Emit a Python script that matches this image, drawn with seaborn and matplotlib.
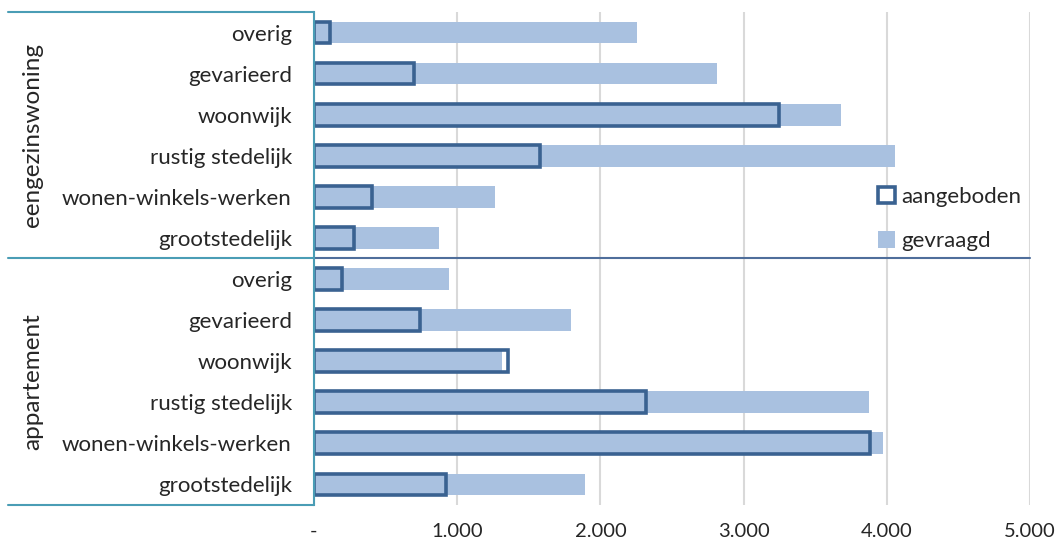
import pandas as pd
import matplotlib
matplotlib.use("Agg")
import matplotlib.pyplot as plt
from matplotlib.patches import Patch
from matplotlib.ticker import FuncFormatter
import seaborn as sns

# ---------------------------------------------------------
# data (aantallen woningen per woonmilieu)
# ---------------------------------------------------------
groepen = ['eengezinswoning', 'appartement']
milieus = ['overig', 'gevarieerd', 'woonwijk', 'rustig stedelijk',
           'wonen-winkels-werken', 'grootstedelijk']

gevraagd_egw = [2255, 2814, 3683, 4060, 1265, 874]
aangeboden_egw = [112, 699, 3245, 1575, 403, 280]
gevraagd_app = [943, 1796, 1311, 3878, 3974, 1894]
aangeboden_app = [198, 741, 1358, 2318, 3885, 922]

xticks = [0, 1000, 2000, 3000, 4000, 5000]

# ---------------------------------------------------------
# table
# ---------------------------------------------------------
rows = []
for g, gev, aan in [(groepen[0], gevraagd_egw, aangeboden_egw),
                    (groepen[1], gevraagd_app, aangeboden_app)]:
    for m, v1, v2 in zip(milieus, gev, aan):
        rows.append({'groep': g, 'milieu': m, 'key': f'{g}|{m}',
                     'gevraagd': v1, 'aangeboden': v2})
df = pd.DataFrame(rows)

# ---------------------------------------------------------
# style
# ---------------------------------------------------------
sns.set_style('white')
plt.rcParams['font.family'] = ['Lato', 'DejaVu Sans']
plt.rcParams['font.size'] = 16

licht = '#A9C1E0'
donker = '#3A6291'
teal = '#4A9DB5'
lijn = '#4F6E9B'

fig = plt.figure(figsize=(10.64, 5.46), dpi=100)
ax = fig.add_axes([0.2951, 0.0751, 0.673, 0.903])

sns.barplot(data=df, y='key', x='gevraagd', orient='h', color=licht,
            width=0.53, saturation=1, linewidth=0, ax=ax, zorder=2)
sns.barplot(data=df, y='key', x='aangeboden', orient='h', color=donker,
            width=0.53, saturation=1, fill=False, linewidth=2.6,
            ax=ax, zorder=3)

ax.set_xlim(0, 5000)
ax.set_ylim(len(df) - 0.5, -0.5)
ax.set_xticks(xticks)
ax.xaxis.set_major_formatter(FuncFormatter(
    lambda v, p: '-' if v == 0 else f'{int(v):,}'.replace(',', '.')))
ax.set_yticks(range(len(df)))
ax.set_yticklabels(df['milieu'])
ax.tick_params(axis='x', length=0, pad=13, labelsize=14.5)
ax.tick_params(axis='y', length=0, pad=16, labelsize=16)
ax.set_xlabel('')
ax.set_ylabel('')

ax.grid(axis='x', color='#D9D9D9', linewidth=1.5, zorder=0)
ax.grid(axis='y', visible=False)
ax.set_axisbelow(True)
for s in ['top', 'right', 'bottom']:
    ax.spines[s].set_visible(False)
ax.spines['left'].set_color(teal)
ax.spines['left'].set_linewidth(1.5)
ax.spines['left'].set_zorder(4)

# groepskaders links
tr = ax.get_yaxis_transform()
x_links = -0.427
for y in [-0.5, 11.5]:
    ax.plot([x_links, 0], [y, y], color=teal, lw=1.5, transform=tr,
            clip_on=False)
ax.plot([x_links, 0], [5.5, 5.5], color=teal, lw=1.5, transform=tr,
        clip_on=False)
ax.plot([0, 1], [5.5, 5.5], color=lijn, lw=1.5, transform=tr,
        clip_on=False, zorder=4)
for g, yc in zip(groepen, [2.5, 8.5]):
    ax.text(-0.393, yc, g, rotation=90, ha='center', va='center',
            fontsize=17.5, transform=tr)

# legenda
handles = [Patch(facecolor='white', edgecolor=donker, linewidth=2.6,
                 label='aangeboden'),
           Patch(facecolor=licht, edgecolor='none', label='gevraagd')]
ax.legend(handles=handles, loc='upper left', bbox_to_anchor=(0.772, 0.668),
          frameon=False, handlelength=0.75, handleheight=0.75,
          handletextpad=0.3, labelspacing=1.1, borderpad=0, fontsize=16)

fig.savefig('out.png', dpi=100)
